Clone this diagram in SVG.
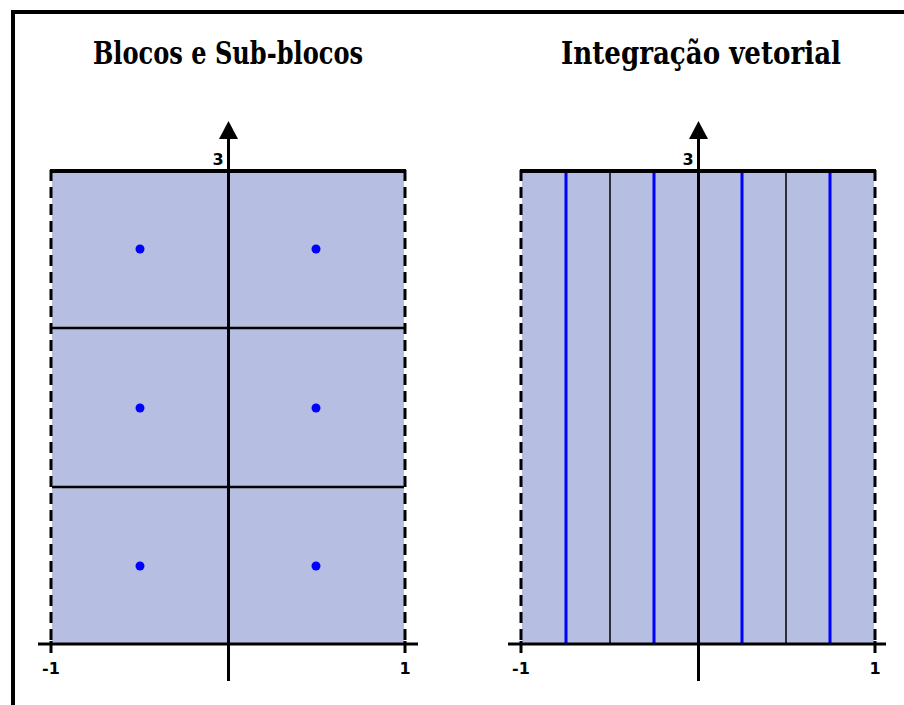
<svg xmlns="http://www.w3.org/2000/svg" width="904" height="705" viewBox="0 0 904 705">
<defs>
<style>
.title{font-family:"DejaVu Serif Condensed","DejaVu Serif","Liberation Serif",serif;font-stretch:condensed;font-weight:bold;font-size:31px;fill:#000}
.lbl{font-family:"DejaVu Sans","Liberation Sans",sans-serif;font-size:16px;font-weight:bold;fill:#000}
.fill{fill:#b6bee2}
.dash{stroke:#000;stroke-width:3;stroke-dasharray:11 6;fill:none}
.top{stroke:#000;stroke-width:4}
.axis{stroke:#000;stroke-width:3}
.grid{stroke:#000;stroke-width:2.5}
.thin{stroke:#000;stroke-width:1.5}
.blue{stroke:#0000ff;stroke-width:3}
.dot{fill:#0000ff}
</style>
</defs>
<rect width="904" height="705" fill="#fff"/>
<g id="frame">
<line x1="13" y1="10" x2="13" y2="705" stroke="#000" stroke-width="4"/>
<line x1="11" y1="12" x2="904" y2="12" stroke="#000" stroke-width="4"/>
</g>
<g id="panel-left">
<text class="title" x="228" y="64" text-anchor="middle" textLength="270" lengthAdjust="spacingAndGlyphs">Blocos e Sub-blocos</text>
<rect class="fill" x="52" y="170" width="352" height="474"/>
<line class="dash" x1="51" y1="170" x2="51" y2="644"/>
<line class="dash" x1="405" y1="170" x2="405" y2="644"/>
<line class="grid" x1="52" y1="328" x2="404" y2="328"/>
<line class="grid" x1="52" y1="487" x2="404" y2="487"/>
<line class="top" x1="50" y1="171" x2="406" y2="171"/>
<circle class="dot" cx="140" cy="249" r="4.5"/>
<circle class="dot" cx="316" cy="249" r="4.5"/>
<circle class="dot" cx="140" cy="408" r="4.5"/>
<circle class="dot" cx="316" cy="408" r="4.5"/>
<circle class="dot" cx="140" cy="566" r="4.5"/>
<circle class="dot" cx="316" cy="566" r="4.5"/>
<line class="axis" x1="38" y1="644" x2="418" y2="644"/>
<line class="axis" x1="228.5" y1="136" x2="228.5" y2="681"/>
<polygon points="228.5,121 219,139 238,139" fill="#000"/>
<line class="axis" x1="51" y1="641" x2="51" y2="653"/>
<line class="axis" x1="405" y1="641" x2="405" y2="653"/>
<text class="lbl" x="51" y="674" text-anchor="middle">-1</text>
<text class="lbl" x="405" y="674" text-anchor="middle">1</text>
<text class="lbl" x="218" y="165" text-anchor="middle">3</text>
</g>
<g id="panel-right">
<text class="title" x="701" y="64" text-anchor="middle" textLength="280" lengthAdjust="spacingAndGlyphs">Integração vetorial</text>
<rect class="fill" x="522" y="170" width="352" height="474"/>
<line class="dash" x1="521" y1="170" x2="521" y2="644"/>
<line class="dash" x1="875" y1="170" x2="875" y2="644"/>
<line class="thin" x1="610" y1="170" x2="610" y2="644"/>
<line class="thin" x1="786" y1="170" x2="786" y2="644"/>
<line class="blue" x1="566" y1="170" x2="566" y2="644"/>
<line class="blue" x1="654" y1="170" x2="654" y2="644"/>
<line class="blue" x1="742" y1="170" x2="742" y2="644"/>
<line class="blue" x1="830" y1="170" x2="830" y2="644"/>
<line class="top" x1="520" y1="171" x2="876" y2="171"/>
<line class="axis" x1="508" y1="644" x2="886" y2="644"/>
<line class="axis" x1="698.5" y1="136" x2="698.5" y2="681"/>
<polygon points="698.5,121 689,139 708,139" fill="#000"/>
<line class="axis" x1="521" y1="641" x2="521" y2="653"/>
<line class="axis" x1="875" y1="641" x2="875" y2="653"/>
<text class="lbl" x="521" y="674" text-anchor="middle">-1</text>
<text class="lbl" x="875" y="674" text-anchor="middle">1</text>
<text class="lbl" x="688" y="165" text-anchor="middle">3</text>
</g>
</svg>
